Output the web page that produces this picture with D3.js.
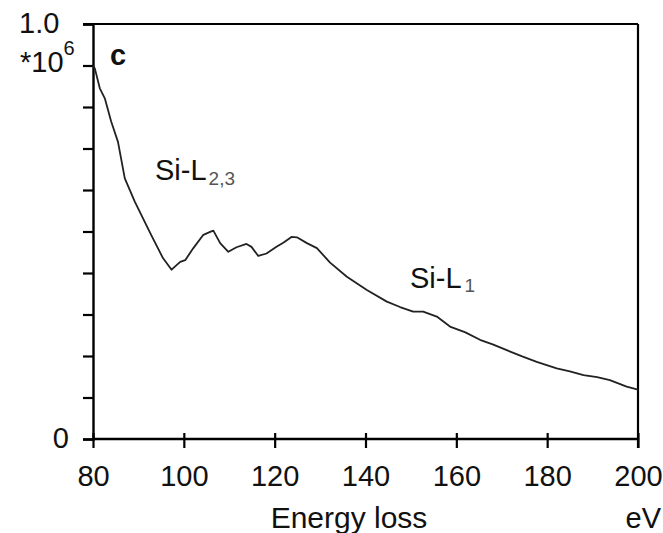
<!DOCTYPE html>
<html>
<head>
<meta charset="utf-8">
<script src="https://cdn.jsdelivr.net/npm/d3@7"></script>
<style>
  html, body { margin: 0; padding: 0; background: #fff; }
  svg { display: block; }
  text { font-family: "Liberation Sans", Arial, Helvetica, sans-serif; fill: #111; }
</style>
</head>
<body>
<svg id="chart" width="663" height="533"></svg>
<script>
// EELS spectrum near the Si-L edges: energy loss (eV) vs counts (×10^6)
const energy = [80.0, 80.4, 81.5, 82.6, 84.0, 85.5, 87.0, 89.2, 92.8, 95.4, 97.3, 99.2, 100.3,
  102.1, 104.3, 105.8, 106.5, 108.0, 109.8, 111.6, 113.8, 114.9, 116.4, 118.2, 120.4,
  121.9, 123.7, 124.9, 127.1, 129.3, 132.2, 135.9, 140.3, 144.7, 147.6, 150.5, 152.7, 155.7,
  158.6, 162.0, 165.2, 168.0, 171.1, 174.5, 177.7, 182.1, 185.0, 188.0, 191.0, 193.8, 197.5, 200.0];
const counts = [0.900, 0.893, 0.845, 0.821, 0.765, 0.716, 0.628, 0.572, 0.492, 0.436, 0.408, 0.427, 0.431,
  0.460, 0.492, 0.499, 0.502, 0.472, 0.451, 0.462, 0.470, 0.463, 0.441, 0.447, 0.463,
  0.473, 0.487, 0.486, 0.472, 0.460, 0.425, 0.391, 0.359, 0.331, 0.318, 0.307, 0.307, 0.295,
  0.271, 0.257, 0.239, 0.228, 0.214, 0.199, 0.186, 0.170, 0.163, 0.154, 0.149, 0.142, 0.126, 0.119];
const xTicks = [80, 100, 120, 140, 160, 180, 200];
const yTicks = [0, 0.1, 0.2, 0.3, 0.4, 0.5, 0.6, 0.7, 0.8, 0.9, 1.0];

const svg = d3.select("#chart");
const x = d3.scaleLinear().domain([80, 200]).range([93, 638]);
const y = d3.scaleLinear().domain([0, 1.0]).range([439, 24]);

// frame: top and right edges
svg.append("line").attr("x1", 83).attr("x2", x(200)).attr("y1", y(1)).attr("y2", y(1))
  .attr("stroke", "#000").attr("stroke-width", 2.2);
svg.append("line").attr("x1", x(200)).attr("x2", x(200)).attr("y1", y(1)).attr("y2", y(0) + 9)
  .attr("stroke", "#000").attr("stroke-width", 2.2);

// left axis: ticks only, end labels drawn separately
const gy = svg.append("g").attr("transform", `translate(${x(80)},0)`)
  .call(d3.axisLeft(y).tickValues(yTicks).tickSize(10).tickFormat(""));
gy.select(".domain").attr("stroke", "#000").attr("stroke-width", 2.4);
gy.selectAll(".tick line").attr("stroke", "#000").attr("stroke-width", 2.2);

// bottom axis: ticks cross the axis line
const gx = svg.append("g").attr("transform", `translate(0,${y(0)})`)
  .call(d3.axisBottom(x).tickValues(xTicks).tickSize(9).tickPadding(17));
gx.select(".domain").attr("stroke", "#000").attr("stroke-width", 2.4).attr("d", `M${x(80)},0H${x(200)}`);
gx.selectAll(".tick line").attr("y1", -6).attr("stroke", "#000").attr("stroke-width", 2.2);
gx.selectAll(".tick text").attr("font-size", 29).attr("fill", "#111")
  .attr("font-family", "'Liberation Sans', Arial, sans-serif");

// y-axis end labels and multiplier
svg.append("text").attr("x", 19).attr("y", y(1) + 9).attr("font-size", 29).text("1.0");
const mult = svg.append("text").attr("x", 20).attr("y", 72).attr("font-size", 29);
mult.append("tspan").text("*10");
mult.append("tspan").attr("font-size", 20).attr("dy", -17).text("6");
svg.append("text").attr("x", 69).attr("y", y(0) + 9).attr("text-anchor", "end")
  .attr("font-size", 29).text("0");

// axis title and unit
svg.append("text").attr("x", 349).attr("y", 528).attr("text-anchor", "middle")
  .attr("font-size", 30).text("Energy loss");
svg.append("text").attr("x", 661).attr("y", 528).attr("text-anchor", "end")
  .attr("font-size", 29).text("eV");

// panel letter
svg.append("text").attr("x", 110).attr("y", 65).attr("font-size", 29)
  .attr("font-weight", "bold").text("c");

// spectrum
const line = d3.line().x((d, i) => x(energy[i])).y(d => y(d)).curve(d3.curveLinear);
svg.append("path").datum(counts).attr("d", line)
  .attr("fill", "none").attr("stroke", "#222").attr("stroke-width", 1.8)
  .attr("stroke-linejoin", "round");

// edge annotations
const l23 = svg.append("text").attr("x", 155).attr("y", 180).attr("font-size", 29);
l23.append("tspan").text("Si-L");
l23.append("tspan").attr("font-size", 19).attr("dy", 5).attr("dx", 2).attr("fill", "#555").text("2,3");
const l1 = svg.append("text").attr("x", 410).attr("y", 288).attr("font-size", 29);
l1.append("tspan").text("Si-L");
l1.append("tspan").attr("font-size", 19).attr("dy", 4).attr("dx", 3).attr("fill", "#555").text("1");
</script>
</body>
</html>
